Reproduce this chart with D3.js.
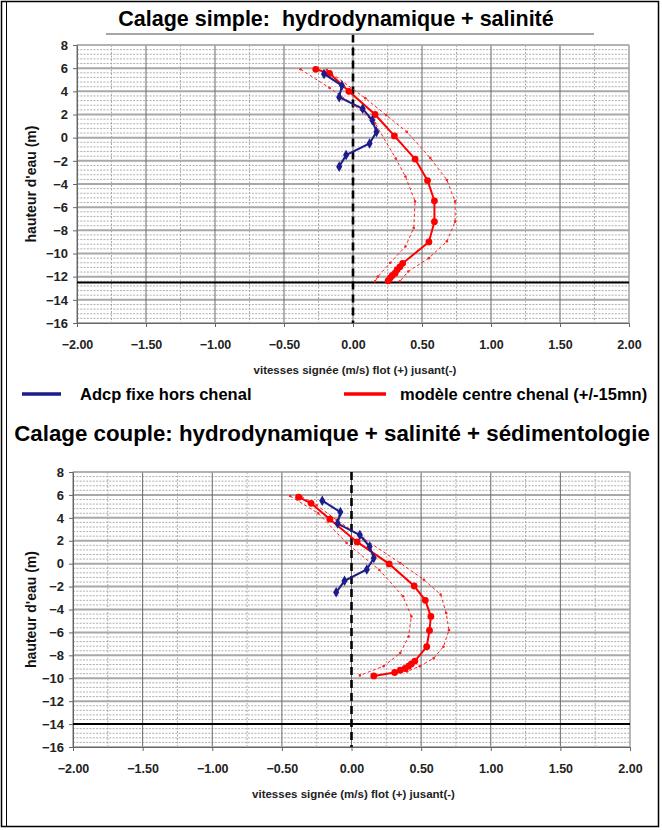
<!DOCTYPE html>
<html>
<head>
<meta charset="utf-8">
<style>
  body { margin: 0; background: #fff; }
  svg text { font-family: "Liberation Sans", Arial, sans-serif; font-weight: bold; }
</style>
</head>
<body>
<div id="vis"></div>
<script src="https://d3js.org/d3.v7.min.js"></script>
<script>
// ---- données ----
// graphe 1 : calage simple
const adcpH1 = [5.5, 4.5, 3.5, 2.5, 1.5, 0.5, -0.5, -1.5, -2.5]
const adcpV1 = [-0.21, -0.08, -0.10, 0.07, 0.14, 0.17, 0.12, -0.05, -0.10]
const modH1 = [5.9, 5.55, 4.0, 2.0, 0.15, -1.85, -3.7, -5.45, -7.25, -9.0, -10.85, -11.15, -11.4, -11.7, -11.9, -12.1, -12.35]
const modV1 = [-0.27, -0.17, -0.03, 0.16, 0.30, 0.45, 0.54, 0.59, 0.59, 0.55, 0.36, 0.34, 0.32, 0.305, 0.285, 0.27, 0.255]
const modMoinsH1 = [5.9, 4.3, 2.8, 1.25, -1.8, -3.35, -5.5, -7.8, -9.4, -10.8, -12.0, -12.4]
const modMoinsV1 = [-0.38, -0.17, 0.01, 0.16, 0.31, 0.38, 0.45, 0.44, 0.38, 0.27, 0.18, 0.16]
const modPlusH1 = [5.85, 3.4, 1.95, 0.5, -1.75, -3.65, -5.5, -7.25, -8.95, -10.4, -11.55, -12.4]
const modPlusV1 = [-0.19, 0.09, 0.24, 0.39, 0.56, 0.68, 0.74, 0.74, 0.68, 0.55, 0.40, 0.34]
const fond1 = -12.5

// graphe 2 : calage couple
const adcpH2 = [5.5, 4.5, 3.5, 2.5, 1.5, 0.5, -0.5, -1.5, -2.5]
const adcpV2 = [-0.21, -0.08, -0.10, 0.06, 0.13, 0.16, 0.11, -0.05, -0.11]
const modH2 = [5.8, 5.27, 3.88, 1.9, -0.02, -1.95, -3.2, -4.6, -5.83, -7.25, -8.5, -8.75, -8.95, -9.15, -9.3, -9.5, -9.8]
const modV2 = [-0.38, -0.29, -0.155, 0.04, 0.27, 0.45, 0.53, 0.57, 0.56, 0.54, 0.455, 0.43, 0.41, 0.385, 0.35, 0.31, 0.16]
const modMoinsH2 = [5.9, 4.4, 1.8, -0.55, -2.85, -4.6, -6.35, -7.8, -8.95, -9.75]
const modMoinsV2 = [-0.44, -0.24, -0.035, 0.2, 0.37, 0.43, 0.41, 0.35, 0.23, 0.06]
const modPlusH2 = [5.85, 5.1, 3.8, 2.2, 0.05, -1.4, -2.7, -4.3, -5.8, -7.25, -8.25, -8.95, -9.4]
const modPlusV2 = [-0.36, -0.25, -0.105, 0.085, 0.35, 0.52, 0.64, 0.68, 0.70, 0.66, 0.59, 0.49, 0.40]
const fond2 = -14

const xTicks = [-2, -1.5, -1, -0.5, 0, 0.5, 1, 1.5, 2]
const yTicks = [8, 6, 4, 2, 0, -2, -4, -6, -8, -10, -12, -14, -16]

const W = 662, H = 830
const svg = d3.select('#vis').append('svg').attr('width', W).attr('height', H)

// cadre
svg.append('rect').attr('x', 1.5).attr('y', 1.5).attr('width', 657).attr('height', 825)
  .attr('fill', 'none').attr('stroke', '#000').attr('stroke-width', 1.5)
svg.append('line').attr('x1', 6.5).attr('x2', 6.5).attr('y1', 1.5).attr('y2', 826.5)
  .attr('stroke', '#000').attr('stroke-width', 1)

const zip = (h, v) => h.map((d, i) => ({ h: d, v: v[i] }))

function chart(cfg) {
  const x = d3.scaleLinear().domain([-2, 2]).range(cfg.xr)
  const y = d3.scaleLinear().domain([-16, 8]).range(cfg.yr)
  const g = svg.append('g')
  const [x0, x1] = cfg.xr, [y0, y1] = [cfg.yr[1], cfg.yr[0]]

  // grille mineure
  g.append('g').selectAll('line').data(d3.range(-15.6, 8, 0.4).filter(d => Math.abs(d / 2 - Math.round(d / 2)) > 0.01))
    .join('line').attr('x1', x0).attr('x2', x1).attr('y1', d => y(d)).attr('y2', d => y(d))
    .attr('stroke', '#999').attr('stroke-width', 0.8).attr('stroke-dasharray', '2,1.3')
  g.append('g').selectAll('line').data(d3.range(-1.75, 2, 0.5))
    .join('line').attr('x1', d => x(d)).attr('x2', d => x(d)).attr('y1', y0).attr('y2', y1)
    .attr('stroke', '#aaa').attr('stroke-width', 1).attr('stroke-dasharray', '2,1.5')
  // grille majeure
  g.append('g').selectAll('line').data(yTicks)
    .join('line').attr('x1', x0).attr('x2', x1).attr('y1', d => y(d)).attr('y2', d => y(d))
    .attr('stroke', '#a8a8a8').attr('stroke-width', 2)
  g.append('g').selectAll('line').data(xTicks)
    .join('line').attr('x1', d => x(d)).attr('x2', d => x(d)).attr('y1', y0).attr('y2', y1)
    .attr('stroke', '#6a6a6a').attr('stroke-width', 1)
  g.append('rect').attr('x', x0).attr('y', y0).attr('width', x1 - x0).attr('height', y1 - y0)
    .attr('fill', 'none').attr('stroke', '#bbb')

  // axes
  g.append('g').attr('transform', `translate(${x0},0)`)
    .call(d3.axisLeft(y).tickValues(yTicks).tickSize(4).tickFormat(d3.format('d')))
    .call(a => a.select('.domain').attr('stroke', '#666'))
    .call(a => a.selectAll('.tick line').attr('stroke', '#666'))
    .call(a => a.selectAll('text').attr('font-size', 13).attr('fill', '#222').attr('dx', '-2'))
  g.append('g').attr('transform', `translate(0,${y1})`)
    .call(d3.axisBottom(x).tickValues(xTicks).tickSize(4).tickFormat(d3.format('.2f')))
    .call(a => a.select('.domain').attr('stroke', '#666'))
    .call(a => a.selectAll('.tick line').attr('stroke', '#666'))
    .call(a => a.selectAll('text').attr('font-size', 12.5).attr('fill', '#222').attr('dy', '1.5em'))

  g.append('text').attr('x', (x0 + x1) / 2 + 2).attr('y', y1 + 51).attr('text-anchor', 'middle')
    .attr('font-size', 11.5).attr('fill', '#222').text('vitesses signée (m/s) flot (+) jusant(-)')
  g.append('text').attr('transform', `translate(${cfg.yt},${(y0 + y1) / 2}) rotate(-90)`)
    .attr('text-anchor', 'middle').attr('font-size', 14).attr('fill', '#111').text("hauteur d'eau (m)")

  // fond et zéro
  g.append('line').attr('x1', x0).attr('x2', x1).attr('y1', y(cfg.fond)).attr('y2', y(cfg.fond))
    .attr('stroke', '#000').attr('stroke-width', 2)
  g.append('line').attr('x1', x(0)).attr('x2', x(0)).attr('y1', y(cfg.zTop)).attr('y2', y(-16))
    .attr('stroke', '#000').attr('stroke-width', 2.6).attr('stroke-dasharray', '8,5')

  const line = d3.line().x(d => x(d.v)).y(d => y(d.h))
  // courbes +/- 15mn
  ;[cfg.moins, cfg.plus].forEach(s => {
    g.append('path').datum(s).attr('d', line).attr('fill', 'none')
      .attr('stroke', '#ff2020').attr('stroke-width', 1).attr('stroke-dasharray', '3,2.5')
    g.append('g').selectAll('circle').data(s).join('circle')
      .attr('cx', d => x(d.v)).attr('cy', d => y(d.h)).attr('r', 1.3).attr('fill', '#ff2020')
  })
  // modèle
  g.append('path').datum(cfg.mod).attr('d', line).attr('fill', 'none')
    .attr('stroke', '#ff0000').attr('stroke-width', 2)
  g.append('g').selectAll('circle').data(cfg.mod).join('circle')
    .attr('cx', d => x(d.v)).attr('cy', d => y(d.h)).attr('r', 3.4).attr('fill', '#ff0000')
  // adcp
  g.append('path').datum(cfg.adcp).attr('d', line).attr('fill', 'none')
    .attr('stroke', '#1c1c8a').attr('stroke-width', 2)
  g.append('g').selectAll('path.m').data(cfg.adcp).join('path')
    .attr('d', d3.symbol(d3.symbolDiamond, 32))
    .attr('transform', d => `translate(${x(d.v)},${y(d.h)})`).attr('fill', '#1c1c8a')
}

chart({ xr: [77, 629], yr: [323, 45], yt: 36, fond: fond1, zTop: 8.9,
  adcp: zip(adcpH1, adcpV1), mod: zip(modH1, modV1), moins: zip(modMoinsH1, modMoinsV1), plus: zip(modPlusH1, modPlusV1) })
chart({ xr: [73, 630], yr: [747, 472], yt: 36, fond: fond2, zTop: 8,
  adcp: zip(adcpH2, adcpV2), mod: zip(modH2, modV2), moins: zip(modMoinsH2, modMoinsV2), plus: zip(modPlusH2, modPlusV2) })

// titres
svg.append('line').attr('x1', 106).attr('x2', 594).attr('y1', 34).attr('y2', 34)
  .attr('stroke', '#888').attr('stroke-width', 1.5)
svg.append('text').attr('x', 336).attr('y', 26).attr('text-anchor', 'middle')
  .attr('font-size', 21.5).style('white-space', 'pre').text('Calage simple:  hydrodynamique + salinité')
svg.append('text').attr('x', 332).attr('y', 441).attr('text-anchor', 'middle')
  .attr('font-size', 22.3).text('Calage couple: hydrodynamique + salinité + sédimentologie')

// légende
const legend = [
  { label: 'Adcp fixe hors chenal', color: '#1c1c8a', x1: 22, x2: 61, tx: 80 },
  { label: 'modèle centre chenal (+/-15mn)', color: '#ff0000', x1: 344, x2: 386, tx: 400 }
]
const lg = svg.append('g').selectAll('g').data(legend).join('g')
lg.append('line').attr('x1', d => d.x1).attr('x2', d => d.x2).attr('y1', 394).attr('y2', 394)
  .attr('stroke', d => d.color).attr('stroke-width', 3.5)
lg.append('text').attr('x', d => d.tx).attr('y', 400).attr('font-size', 16.5).text(d => d.label)
</script>
</body>
</html>
